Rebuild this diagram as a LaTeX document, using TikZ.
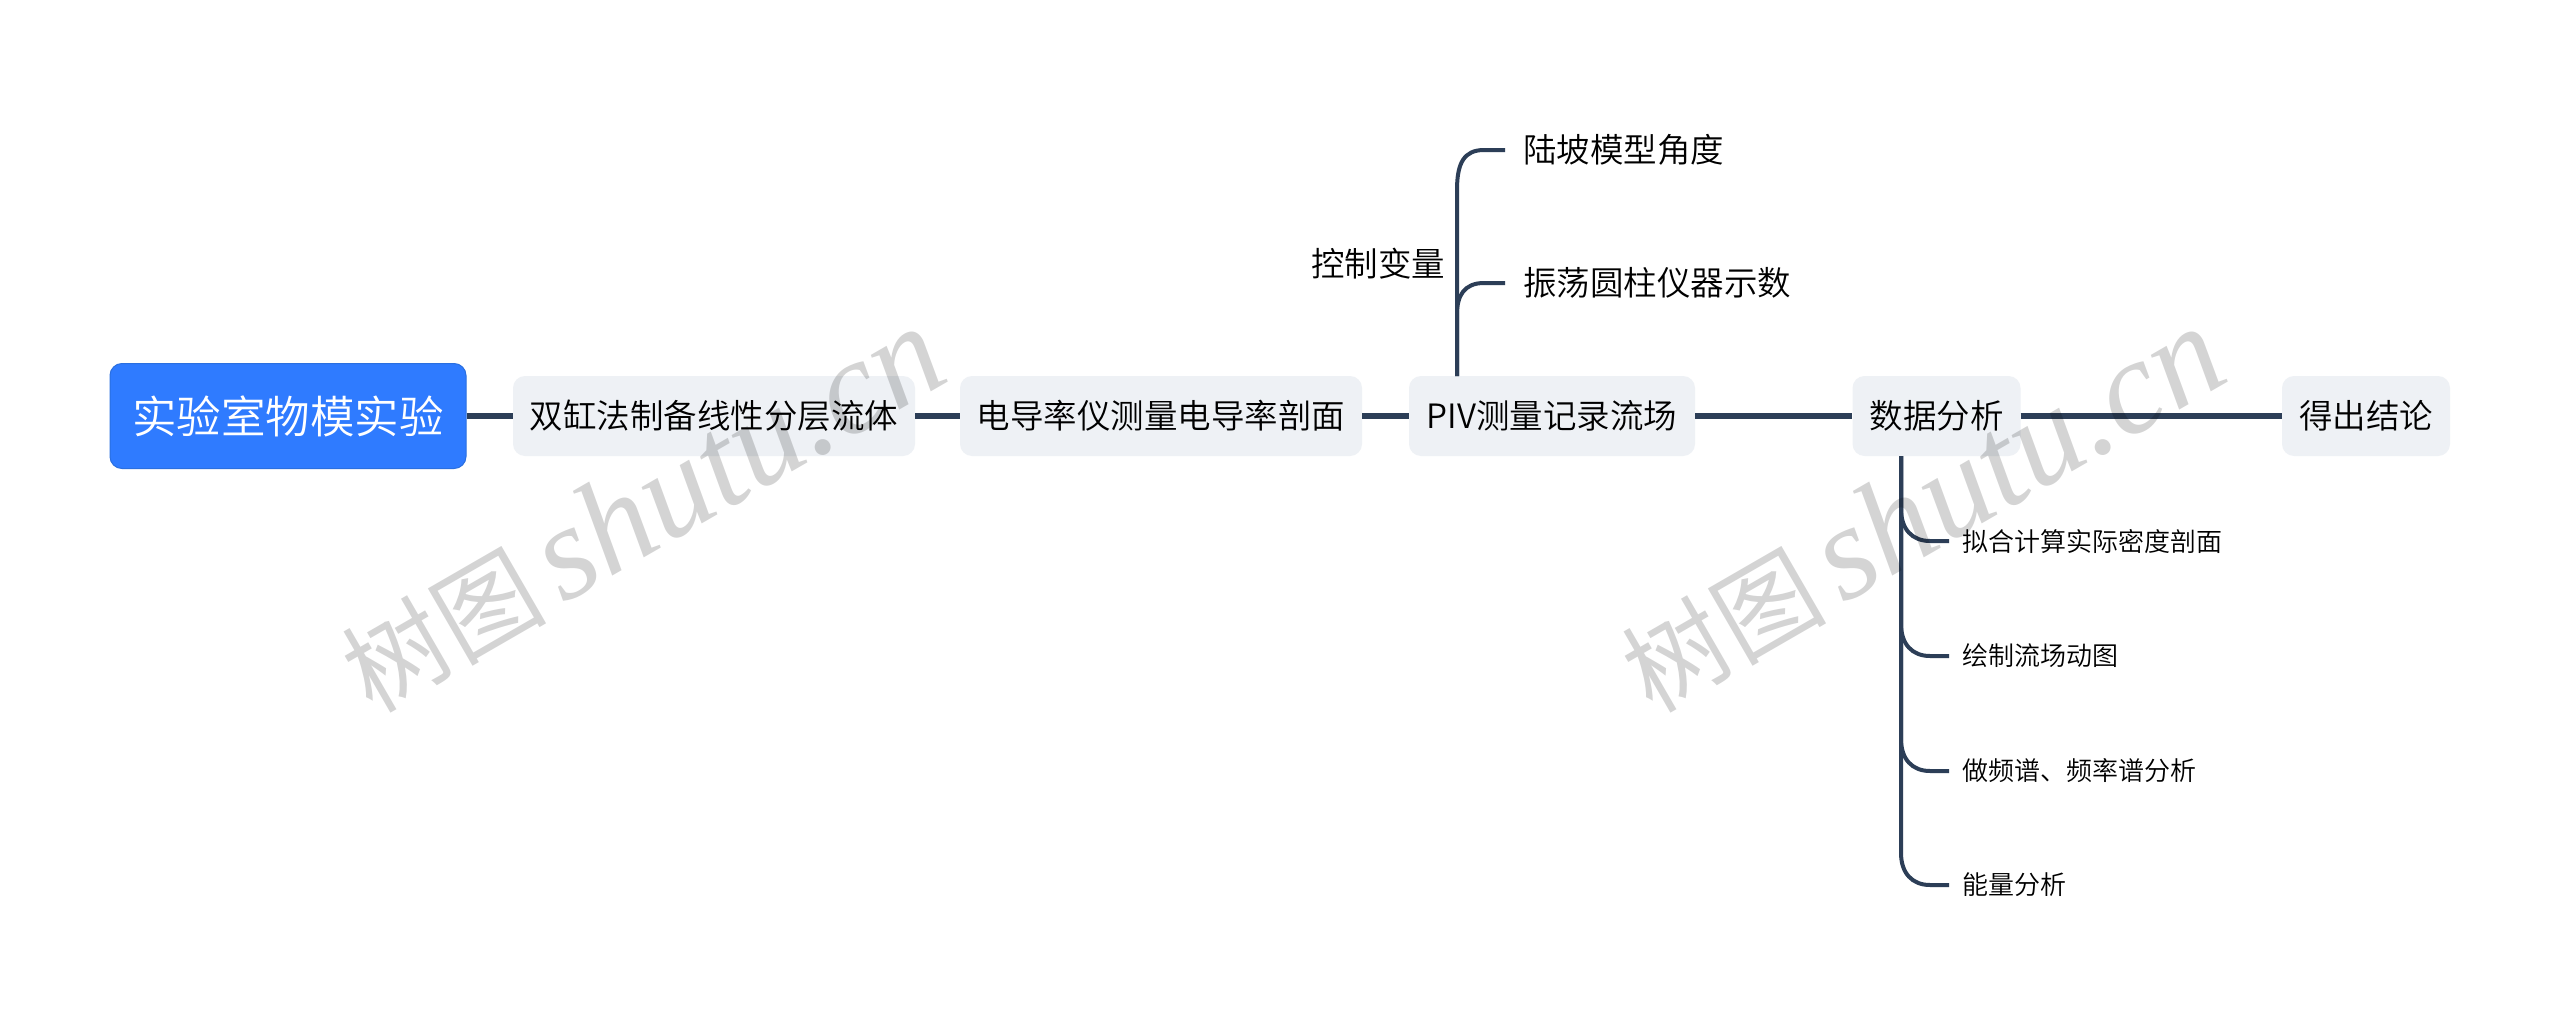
\documentclass[tikz,border=0pt]{standalone}
\usepackage{fontspec}
\setmainfont{Noto Sans CJK SC}[UprightFont=* DemiLight]
\newfontfamily\wmcjk{Noto Sans CJK SC}[AutoFakeSlant=0.2]
\newfontfamily\wmlat{Liberation Serif}
\definecolor{linec}{HTML}{2C3E57}
\definecolor{nodec}{HTML}{EEF1F5}
\definecolor{rootc}{HTML}{2F7BFF}
\definecolor{rootb}{HTML}{2A6FE0}
\definecolor{textc}{HTML}{000000}
\tikzset{
  x=1pt,y=-1pt,
  rootbox/.style={draw=rootb,line width=1pt,fill=rootc,rounded corners=12pt,text=white,inner sep=0pt,
    font=\fontsize{44.5}{44.5}\selectfont,minimum height=105pt},
  topicbox/.style={fill=nodec,rounded corners=12pt,text=textc,inner sep=0pt,
    font=\fontsize{33.5}{33.5}\selectfont,minimum height=80pt},
  leafa/.style={anchor=west,inner xsep=18pt,inner ysep=0pt,text=textc,font=\fontsize{33.5}{33.5}\selectfont},
  leafb/.style={anchor=west,inner xsep=13pt,inner ysep=0pt,text=textc,font=\fontsize{26}{26}\selectfont},
  trunk/.style={draw=linec,line width=5.5pt},
  twig/.style={draw=linec,line width=4pt},
  wm/.style={rotate=30,black,opacity=.17,inner sep=0pt},
}
\newcommand{\wmtext}{{\wmcjk\fontsize{102}{102}\selectfont 树图}\hspace{16pt}{\wmlat\itshape\fontsize{134}{134}\selectfont shutu.cn}}
\begin{document}
\begin{tikzpicture}
\useasboundingbox (0,0) rectangle (2560,1025);
\fill[white] (0,0) rectangle (2560,1025);
% main row
\node[rootbox,minimum width=356pt] (root) at (288,416) {实验室物模实验};
\node[topicbox,minimum width=402pt] (n1) at (714,416) {双缸法制备线性分层流体};
\node[topicbox,minimum width=402pt] (n2) at (1161,416) {电导率仪测量电导率剖面};
\node[topicbox,minimum width=286pt] (n3) at (1552,416) {PIV测量记录流场};
\node[topicbox,minimum width=168pt] (n4) at (1936.5,416) {数据分析};
\node[topicbox,minimum width=168pt] (n5) at (2366,416) {得出结论};
\draw[trunk] (root.east) -- (n1.west);
\draw[trunk] (n1.east) -- (n2.west);
\draw[trunk] (n2.east) -- (n3.west);
\draw[trunk] (n3.east) -- (n4.west);
\draw[trunk] (n4.east) -- (n5.west);
% upper branch
\coordinate (pa) at (1457,376);
\node[leafa] (a1) at (1505,150) {陆坡模型角度};
\node[leafa] (a2) at (1505,283) {振荡圆柱仪器示数};
\node[text=textc,font=\fontsize{33.5}{33.5}\selectfont,inner sep=0pt] (lab) at (1378,264) {控制变量};
\draw[twig] (pa) -- (1457,190) .. controls (1457,163) and (1464,150) .. (1484,150) -- (a1.west);
\draw[twig] (pa) -- (1457,314) .. controls (1457,296) and (1464,283) .. (1484,283) -- (a2.west);
% lower branch
\coordinate (pb) at (1901,456);
\node[leafb] (b1) at (1949,541) {拟合计算实际密度剖面};
\node[leafb] (b2) at (1949,656) {绘制流场动图};
\node[leafb] (b3) at (1949,771) {做频谱、频率谱分析};
\node[leafb] (b4) at (1949,885) {能量分析};
\draw[twig] (pb) -- (1901,509) .. controls (1901,529) and (1912,541) .. (1930,541) -- (b1.west);
\draw[twig] (pb) -- (1901,624) .. controls (1901,644) and (1912,656) .. (1930,656) -- (b2.west);
\draw[twig] (pb) -- (1901,739) .. controls (1901,759) and (1912,771) .. (1930,771) -- (b3.west);
\draw[twig] (pb) -- (1901,853) .. controls (1901,873) and (1912,885) .. (1930,885) -- (b4.west);
% watermarks
\node[wm] (w1) at (642,510) {\wmtext};
\node[wm] (w2) at (1922,510) {\wmtext};
\end{tikzpicture}
\end{document}
